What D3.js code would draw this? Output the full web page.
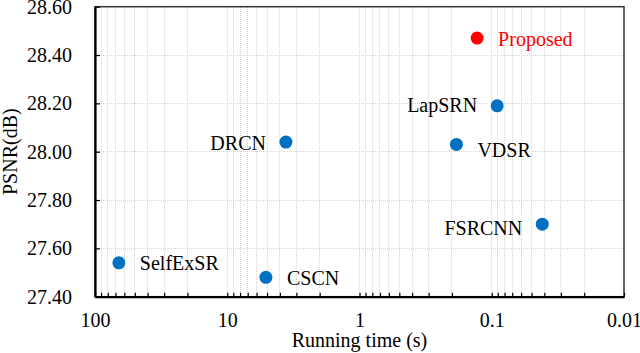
<!DOCTYPE html>
<html>
<head>
<meta charset="utf-8">
<script src="https://cdn.jsdelivr.net/npm/d3@7"></script>
<style>
  html, body { margin: 0; padding: 0; background: #fff; }
  svg { display: block; }
  text { font-family: "Liberation Serif", "Times New Roman", serif; }
</style>
</head>
<body>
<svg id="chart" width="640" height="353"></svg>
<script>
// ---- data ----
const methods = ["Proposed", "LapSRN", "VDSR", "DRCN", "FSRCNN", "CSCN", "SelfExSR"];
const runTimes = [0.129, 0.091, 0.185, 3.6, 0.0415, 5.1, 66];
const psnr = [28.47, 28.19, 28.03, 28.04, 27.70, 27.48, 27.54];
const labelSide = ["right", "left", "right", "left", "left", "right", "right"];
const xTickValues = [100, 10, 1, 0.1, 0.01];
const xTickLabels = ["100", "10", "1", "0.1", "0.01"];
const yTickValues = [27.4, 27.6, 27.8, 28.0, 28.2, 28.4, 28.6];
const yTickLabels = ["27.40", "27.60", "27.80", "28.00", "28.20", "28.40", "28.60"];

// ---- layout ----
const pL = 95, pR = 624, pT = 6.7, pB = 296.7;
const svg = d3.select("#chart");

const x = d3.scaleLog().domain([100, 0.01]).range([pL, pR]);
const y = d3.scaleLinear().domain([27.4, 28.6]).range([pB, pT]);

// minor x values (2..9 of each decade)
const minorX = [];
[10, 1, 0.1, 0.01].forEach(d => { for (let k = 2; k <= 9; k++) minorX.push(d * k); });

// gridlines
const grid = svg.append("g");
grid.selectAll("line.vx").data(minorX.concat(xTickValues.slice(1, -1))).enter().append("line")
  .attr("x1", d => x(d)).attr("x2", d => x(d))
  .attr("y1", pT).attr("y2", pB)
  .attr("stroke", "#d4d4d4").attr("stroke-width", 1).attr("stroke-dasharray", "1,1")
  .attr("shape-rendering", "crispEdges");
grid.selectAll("line.hy").data(yTickValues.slice(1, -1)).enter().append("line")
  .attr("x1", pL).attr("x2", pR)
  .attr("y1", d => y(d)).attr("y2", d => y(d))
  .attr("stroke", "#d4d4d4").attr("stroke-width", 1).attr("stroke-dasharray", "1,1")
  .attr("shape-rendering", "crispEdges");

// frame
svg.append("rect").attr("x", pL).attr("y", pT)
  .attr("width", pR - pL).attr("height", pB - pT)
  .attr("fill", "none").attr("stroke", "#333").attr("stroke-width", 1.5);

// x axis
const xAxis = d3.axisBottom(x).tickValues(xTickValues)
  .tickFormat((d, i) => xTickLabels[i]).tickSizeInner(-4).tickSizeOuter(0).tickPadding(16);
const gx = svg.append("g").attr("transform", `translate(0,${pB})`).call(xAxis);
gx.select(".domain").attr("stroke", "#000").attr("stroke-width", 2.2);
gx.selectAll(".tick line").attr("stroke", "#000").attr("stroke-width", 1.2);
gx.selectAll(".tick text").attr("font-size", 20).attr("fill", "#000")
  .attr("font-family", "Liberation Serif, Times New Roman, serif");

const xMinor = d3.axisBottom(x).tickValues(minorX).tickFormat("").tickSizeInner(-4).tickSizeOuter(0);
const gxm = svg.append("g").attr("transform", `translate(0,${pB})`).call(xMinor);
gxm.select(".domain").remove();
gxm.selectAll(".tick line").attr("stroke", "#000").attr("stroke-width", 1.2);

// y axis
const yAxis = d3.axisLeft(y).tickValues(yTickValues)
  .tickFormat((d, i) => yTickLabels[i]).tickSizeInner(-5).tickSizeOuter(0).tickPadding(23);
const gy = svg.append("g").attr("transform", `translate(${pL},0)`).call(yAxis);
gy.select(".domain").attr("stroke", "#000").attr("stroke-width", 2.2);
gy.selectAll(".tick line").attr("stroke", "#000").attr("stroke-width", 1.2);
gy.selectAll(".tick text").attr("font-size", 20).attr("fill", "#000")
  .attr("font-family", "Liberation Serif, Times New Roman, serif");

// axis titles
svg.append("text").attr("x", (pL + pR) / 2).attr("y", 346.5)
  .attr("text-anchor", "middle").attr("font-size", 20).attr("fill", "#000")
  .text("Running time (s)");
svg.append("text").attr("transform", `translate(17,${(pT + pB) / 2}) rotate(-90)`)
  .attr("text-anchor", "middle").attr("font-size", 20).attr("fill", "#000")
  .text("PSNR(dB)");

// points
const rows = methods.map((m, i) => ({ m, t: runTimes[i], p: psnr[i], side: labelSide[i] }));
const extraDy = { VDSR: 5, FSRCNN: 3, LapSRN: -1 };
svg.append("g").selectAll("circle").data(rows).enter().append("circle")
  .attr("cx", d => x(d.t)).attr("cy", d => y(d.p)).attr("r", 6.5)
  .attr("fill", d => d.m === "Proposed" ? "#FF0000" : "#0070C0");

svg.append("g").selectAll("text").data(rows).enter().append("text")
  .attr("x", d => x(d.t) + (d.side === "right" ? 21 : -20))
  .attr("y", d => y(d.p) + 7.5 + (extraDy[d.m] || 0))
  .attr("text-anchor", d => d.side === "right" ? "start" : "end")
  .attr("font-size", 20)
  .attr("fill", d => d.m === "Proposed" ? "#FF0000" : "#000")
  .text(d => d.m);
</script>
</body>
</html>
